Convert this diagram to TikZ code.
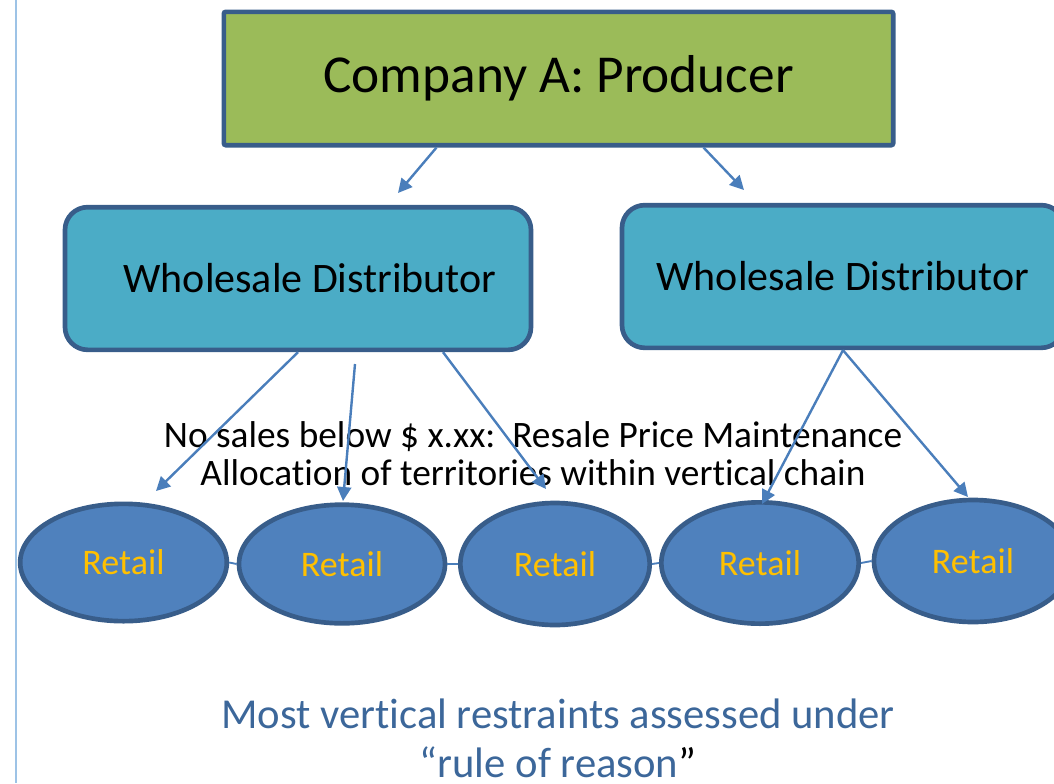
\documentclass[tikz,border=0pt]{standalone}
\usepackage{fontspec}
\setmainfont{Carlito}[Ligatures=NoCommon]
\usetikzlibrary{arrows.meta,calc,shapes.geometric}
\definecolor{ProdGreen}{HTML}{9BBB59}
\definecolor{EdgeBlue}{HTML}{385D8A}
\definecolor{WholeTeal}{HTML}{4BACC6}
\definecolor{RetBlue}{HTML}{4F81BD}
\definecolor{RetGold}{HTML}{FFC000}
\definecolor{ArrBlue}{HTML}{4A7EBB}
\definecolor{NoteBlue}{HTML}{3C679A}
\definecolor{RuleBlue}{HTML}{9DC3E6}

\begin{document}
\begin{tikzpicture}[x=0.75pt,y=-0.75pt,inner sep=0pt, prodbox/.style={draw=EdgeBlue,line width=3.5pt,fill=ProdGreen,rounded corners=1.5pt,minimum width=502pt,minimum height=100pt,font=\fontsize{40}{48}\selectfont}, wholebox/.style={draw=EdgeBlue,line width=3.5pt,fill=WholeTeal,rounded corners=17pt,minimum height=107pt,font=\fontsize{31.5}{38}\selectfont}, retail/.style={ellipse,draw=EdgeBlue,line width=3.5pt,fill=RetBlue,text=RetGold,font=\fontsize{27}{32}\selectfont}, arr/.style={-{Triangle[length=10.5pt,width=10.5pt]},ArrBlue,line width=1.8pt}, link/.style={ArrBlue,line width=1.4pt}]
\useasboundingbox (0,0) rectangle (1054,783);
\draw[RuleBlue,line width=1.5pt] (16,0) -- (16,783);
\node[prodbox] (prod) at (558.5,78.5) {Company A: Producer};
\node[wholebox,minimum width=349.5pt] (wdl) at (298,278.5) {\hspace*{18pt}Wholesale Distributor};
\node[wholebox,minimum width=331.5pt] (wdr) at (843,276.5) {Wholesale Distributor};
% retailers
\node[retail,minimum width=155pt,minimum height=88pt] (r1) at (123.5,562.5) {Retail};
\node[retail,minimum width=154.5pt,minimum height=89pt] (r2) at (342,564) {Retail};
\node[retail,minimum width=142pt,minimum height=91.5pt] (r3) at (555,564) {Retail};
\node[retail,minimum width=148pt,minimum height=91pt] (r4) at (760,563) {Retail};
\node[retail,minimum width=148.5pt,minimum height=91.5pt] (r5) at (973,561) {Retail};
\draw[link] (r1.east) -- (r2.west);
\draw[link] (r2.east) -- (r3.west);
\draw[link] (r3.east) -- (r4.west);
\draw[link] (r4.east) -- (r5.west);
\node[font=\fontsize{28}{28.5}\selectfont,align=center] (restr) at (533,454) {No sales below \$ x.xx:\ \ Resale Price Maintenance\\Allocation of territories within vertical chain};
\node[text=NoteBlue,font=\fontsize{32}{37}\selectfont,align=center] (note) at (558,738) {Most vertical restraints assessed under\\“rule of reason{\color{black}”}};
% arrow ends
\coordinate (t1) at (398,193);
\coordinate (t2) at (744,190);
\coordinate (s2) at (355,364);
\coordinate (u1) at (156,491);
\coordinate (u2) at (343,501);
\coordinate (u3) at (546,489);
\coordinate (u4) at (762,504);
\coordinate (u5) at (968,497);
\draw[arr] ($(prod.south)+(-122,0)$) -- (t1);
\draw[arr] ($(prod.south)+(145,0)$) -- (t2);
\draw[arr] (wdl.south) -- (u1);
\draw[arr] (s2) -- (u2);
\draw[arr] ($(wdl.south)+(145,0)$) -- (u3);
\draw[arr] (wdr.south) -- (u4);
\draw[arr] (wdr.south) -- (u5);
\end{tikzpicture}
\end{document}
